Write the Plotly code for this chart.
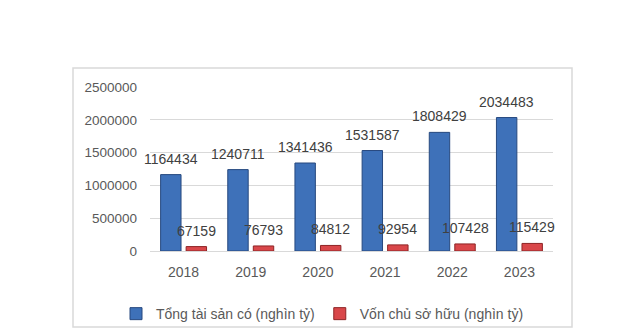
import plotly.graph_objects as go

years = ["2018", "2019", "2020", "2021", "2022", "2023"]
total_assets = [1164434, 1240711, 1341436, 1531587, 1808429, 2034483]
equity = [67159, 76793, 84812, 92954, 107428, 115429]
series_names = ["Tổng tài sản có (nghìn tỷ)", "Vốn chủ sở hữu (nghìn tỷ)"]
y_ticks = [0, 500000, 1000000, 1500000, 2000000, 2500000]

FONT = "Liberation Sans, Arial, sans-serif"
W, H = 634, 329
ML, MR, MT, MB = 73, 62, 68, 2
XDOM = [77/499, 480/499]
BARGAP, GROUPGAP = 0.24, 0.2

# pixel offset of each bar's centre from its category centre (derived from layout)
cat_px = (W - ML - MR) * (XDOM[1] - XDOM[0]) / len(years)
slot_px = cat_px * (1 - BARGAP) / 2
offsets = [-slot_px / 2, slot_px / 2]

fig = go.Figure()
fig.add_trace(go.Bar(
    x=years, y=total_assets, name=series_names[0],
    marker=dict(color="#3e71b9", line=dict(color="#27497f", width=1)),
))
fig.add_trace(go.Bar(
    x=years, y=equity, name=series_names[1],
    marker=dict(color="#d9474a", line=dict(color="#8e2425", width=1)),
))

annotations = []
for vals, off in ((total_assets, offsets[0]), (equity, offsets[1])):
    for i, v in enumerate(vals):
        # category axis: annotation x given as the category index
        annotations.append(dict(
            x=i, y=v, xref="x", yref="y", text=str(v), showarrow=False,
            xanchor="center", yanchor="middle", xshift=off, yshift=16,
            font=dict(size=14, color="#404040", family=FONT),
        ))

fig.update_layout(
    width=W, height=H,
    margin=dict(l=ML, r=MR, t=MT, b=MB, autoexpand=False),
    paper_bgcolor="white", plot_bgcolor="white",
    barmode="group", bargap=BARGAP, bargroupgap=GROUPGAP,
    font=dict(family=FONT, size=14, color="#595959"),
    showlegend=True,
    legend=dict(orientation="h", x=0.5, xanchor="center", y=0.05, yanchor="middle",
                font=dict(size=14, color="#595959"), itemwidth=30,
                traceorder="normal", bgcolor="rgba(0,0,0,0)"),
    xaxis=dict(type="category", domain=XDOM, range=[-0.5, len(years) - 0.5],
               showgrid=False, showline=True,
               linecolor="#d9d9d9", linewidth=1, ticks="outside", ticklen=8,
               tickcolor="rgba(0,0,0,0)", tickfont=dict(size=14, color="#595959"),
               automargin=False),
    yaxis=dict(domain=[76/259, 240/259], range=[0, 2500000], tickvals=y_ticks,
               tickformat="d", showgrid=True, gridcolor="#d9d9d9", gridwidth=1,
               zeroline=False, showline=False, ticklabelstandoff=12,
               tickfont=dict(size=13.5, color="#595959"), automargin=False),
    annotations=annotations,
    shapes=[dict(type="rect", xref="paper", yref="paper", x0=0, y0=0, x1=1, y1=1,
                 line=dict(color="#d9d9d9", width=1.5), fillcolor="rgba(0,0,0,0)",
                 layer="below")],
)

fig.write_html("out.html")
